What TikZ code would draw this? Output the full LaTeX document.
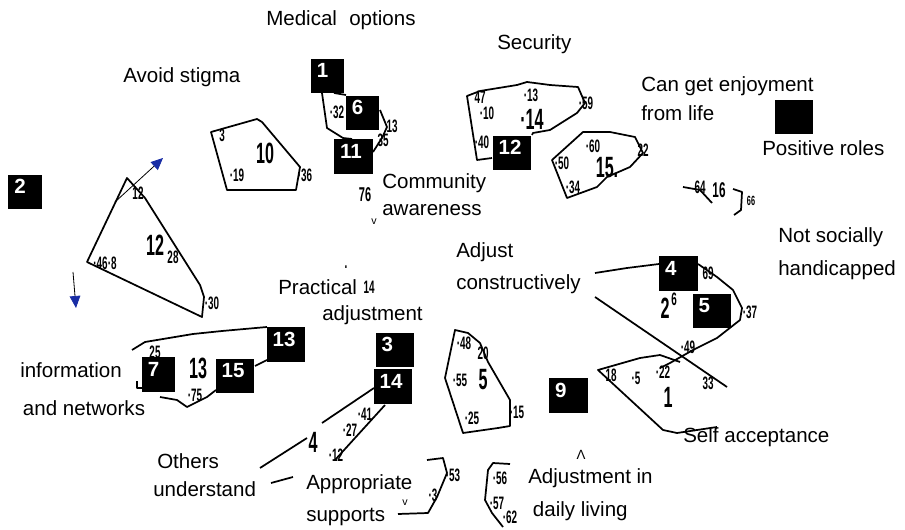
\documentclass[tikz,border=0pt]{standalone}
\usepackage{fontspec}
\setmainfont{Liberation Sans}
\newfontfamily\numfont[FakeStretch=0.55]{Liberation Sans}
\usetikzlibrary{arrows.meta}
\definecolor{arrowblue}{RGB}{25,45,165}

\begin{document}
\begin{tikzpicture}[x=0.75pt, y=-0.75pt,
  lbl/.style={anchor=west, inner sep=0pt, font=\fontsize{15.4}{18.5}\selectfont},
  blk/.style={fill=black, text=white, font=\bfseries\fontsize{15.4}{15.4}\selectfont,
    text width=20pt, align=left, inner xsep=4.5pt, inner ysep=3.5pt,
    text height=11pt, text depth=8pt},
  narrow/.style={text width=16pt},
  edge/.style={line width=1.3pt, line join=round},
  smallno/.style={inner sep=0pt, font=\numfont\bfseries\fontsize{13.5}{13.5}\selectfont},
  bigno/.style={inner sep=0pt, font=\numfont\bfseries\fontsize{22}{22}\selectfont},
  arr/.style={line width=0.6pt, -{Triangle[length=9pt, width=8pt, color=arrowblue]}}]

\useasboundingbox (0,0) rectangle (905,530);

% labels
\node[lbl] (lMed) at (266,20) {Medical\hspace{0.6em}options};
\node[lbl] (lSec) at (497,44) {Security};
\node[lbl] (lStig) at (123,77) {Avoid stigma};
\node[lbl, align=left] (lEnj) at (641,98.5) {Can get enjoyment\\[3.25pt]from life};
\node[lbl] (lPos) at (762,148) {Positive roles};
\node[lbl, align=left] (lCom) at (382,195) {Community\\[1.75pt]awareness};
\node[lbl, align=left] (lSoc) at (778,253.5) {Not socially\\[6.25pt]handicapped};
\node[lbl, align=left] (lCon) at (456,268) {Adjust\\[5.5pt]constructively};
\node[lbl] (lPra) at (278,287) {Practical};
\node[lbl] (lAdj) at (322,315) {adjustment};
\node[lbl, align=left] (lInf) at (20,389) {information\\[10pt]\hspace*{2pt}and networks};
\node[lbl, align=left] (lOth) at (153,475) {\hspace*{3pt}Others\\[2.5pt]understand};
\node[lbl, align=left] (lSup) at (306,500) {Appropriate\\[5.5pt]supports};
\node[lbl, align=left] (lDai) at (528,494.5) {Adjustment in\\[6.25pt]\hspace*{3.5pt}daily living};
\node[lbl] (lSel) at (683,437) {Self acceptance};

% black boxes
\node[blk, narrow] (b1) at (327.5,76) {1};
\node[blk, narrow] (b6) at (362.5,113) {6};
\node[blk] (b11) at (353.5,156.5) {11};
\node[blk] (b12) at (512,153) {12};
\node[blk, narrow] (b2) at (25,192) {2};
\node[blk] (b4) at (678.5,273.5) {4};
\node[blk] (b5) at (712,311) {5};
\node[blk] (b9) at (568.5,395.5) {9};
\node[blk] (b13) at (286,344.5) {13};
\node[blk, narrow] (b7) at (158.5,374.5) {7};
\node[blk] (b15) at (235,376) {15};
\node[blk] (b3) at (395,350) {3};
\node[blk] (b14) at (393,386.5) {14};
\node[blk] (bRoles) at (794,117) {};

% cluster 10
\draw[edge] (211,132) -- (257,119) -- (262,122) -- (300,167) -- (296,190) -- (227,190) -- cycle;
\node[bigno] (c10) at (265,153) {10};
\node[smallno] (c10a) at (237,175) {·19};
\node[smallno] (c10b) at (305,175) {·36};
\node[smallno] (c10c) at (222,135) {3};

% cluster 1-6-11
\draw[edge] (322,93) -- (327,128) -- (343,138) -- (352,139);
\draw[edge] (334,93) -- (346,95);
\draw[edge] (380,110) -- (387,127) -- (382,138) -- (373,152);
\node[smallno] (c11a) at (337,112) {·32};
\node[smallno] (c11b) at (392,126) {13};
\node[smallno] (c11c) at (383,140) {35};
\node[smallno, font=\numfont\bfseries\fontsize{15}{15}\selectfont] (c11d) at (365,195) {76};
\node[smallno, font=\fontsize{8}{8}\selectfont] (c11e) at (374,222) {v};

% cluster 14
\draw[edge] (492,158) -- (477,160) -- (467,96) -- (480,91) -- (517,85) -- (527,82)
  -- (550,85) -- (578,87) -- (585,103) -- (577,113) -- (550,130) -- (533,133) -- (532,135);
\node[smallno] (c14a) at (480,97) {47};
\node[smallno] (c14b) at (531,95) {·13};
\node[smallno] (c14c) at (586,103) {·59};
\node[smallno] (c14d) at (487,113) {·10};
\node[bigno] (c14) at (532,119) {·14};
\node[smallno] (c14e) at (482,142) {·40};

% cluster 15
\draw[edge] (552,160) -- (583,132) -- (610,132) -- (635,137) -- (643,153) -- (630,167)
  -- (607,177) -- (597,187) -- (567,198) -- cycle;
\node[smallno] (c15a) at (593,146) {·60};
\node[smallno] (c15b) at (643,150) {22};
\node[smallno] (c15c) at (562,163) {·50};
\node[bigno] (c15) at (607,168) {15.};
\node[smallno] (c15d) at (573,187) {·34};

% cluster 16
\draw[edge] (683,187) -- (700,190) -- (712,203);
\draw[edge] (733,189) -- (742,192) -- (741,210) -- (734,215);
\node[smallno] (c16a) at (700,187) {64};
\node[smallno, font=\numfont\bfseries\fontsize{16}{16}\selectfont] (c16) at (719,190) {16};
\node[smallno, font=\numfont\bfseries\fontsize{10}{10}\selectfont] (c16b) at (751,201) {66};

% cluster 2
\draw[edge] (595,273) -- (627,268) -- (659,264);
\draw[edge] (698,264) -- (717,277) -- (733,290) -- (742,308) -- (740,320) -- (717,338)
  -- (693,350) -- (670,363) -- (660,368);
\draw[edge] (595,297) -- (727,387);
\node[smallno] (c2a) at (708,273) {69};
\node[bigno] (c2) at (665,308) {2};
\node[smallno] (c2b) at (674,299) {6};
\node[smallno] (c2c) at (750,312) {·37};
\node[smallno] (c2d) at (688,347) {·49};

% cluster 1
\draw[edge] (717,427) -- (677,433) -- (663,430) -- (598,370) -- (640,358) -- (660,355) -- (680,362);
\node[smallno] (c1a) at (611,375) {18};
\node[smallno] (c1b) at (636,378) {·5};
\node[smallno] (c1c) at (663,372) {·22};
\node[smallno] (c1d) at (708,383) {33};
\node[bigno] (c1) at (668,397) {1};

% cluster 12
\draw[edge] (127,178) -- (87,262) -- (202,317) -- (204,297) -- (200,285) -- (145,198) -- cycle;
\coordinate (a1s) at (115,202);
\coordinate (a1e) at (163,158);
\coordinate (a2s) at (73,272);
\coordinate (a2e) at (76,308);
\draw[arr] (a1s) -- (a1e);
\draw[arr] (a2s) -- (a2e);
\node[smallno] (c12a) at (138,193) {12};
\node[bigno] (c12) at (155,245) {12};
\node[smallno] (c12b) at (173,257) {28};
\node[smallno] (c12c) at (105,263) {·46·8};
\node[smallno] (c12d) at (212,303) {·30};

% cluster 13
\draw[edge] (132,350) -- (145,342) -- (193,334) -- (222,331) -- (267,327);
\draw[edge] (267,360) -- (255,366);
\draw[edge] (216,390) -- (207,397) -- (187,407) -- (177,400) -- (160,397);
\draw[edge] (137,381) -- (137,388) -- (142,388);
\node[smallno] (c13a) at (155,352) {25};
\node[bigno] (c13) at (198,368) {13};
\node[smallno] (c13b) at (195,395) {·75};

% cluster 4
\draw[edge] (260,468) -- (307,438);
\draw[edge] (322,423) -- (374,388);
\draw[edge] (335,460) -- (385,405);
\draw[edge] (271,483) -- (293,477);
\node[bigno] (c4) at (313,442) {4};
\node[smallno] (c4a) at (350,430) {·27};
\node[smallno] (c4b) at (365,414) {·41};
\node[smallno] (c4c) at (336,455) {·12};

% cluster 3
\draw[edge] (427,460) -- (443,458) -- (447,473) -- (437,497) -- (428,513) -- (398,514);
\node[smallno] (c3a) at (453,475) {·53};
\node[smallno] (c3b) at (433,495) {·3};
\node[smallno, font=\fontsize{8}{8}\selectfont] (c3c) at (405,503) {v};

% cluster 5
\draw[edge] (455,330) -- (468,333) -- (480,343) -- (488,362) -- (510,400) -- (510,426)
  -- (498,428) -- (463,433) -- (445,378) -- cycle;
\node[smallno] (c5a) at (464,343) {·48};
\node[smallno] (c5b) at (483,353) {20};
\node[smallno] (c5c) at (460,380) {·55};
\node[bigno] (c5) at (483,380) {5};
\node[smallno] (c5d) at (472,418) {·25};
\node[smallno] (c5e) at (517,412) {·15};

% cluster 9
\draw[edge] (510,464) -- (493,463) -- (488,470) -- (485,500) -- (492,513) -- (503,527);
\node[smallno] (c9a) at (500,478) {·56};
\node[smallno] (c9b) at (497,503) {·57};
\node[smallno] (c9c) at (510,517) {·62};

% stray marks
\node[smallno] (m1) at (369,287) {14};
\node[smallno] (m2) at (346,267) {.};
\node[smallno, font=\fontsize{10}{10}\selectfont] (m3) at (581,455) {Λ};
\end{tikzpicture}
\end{document}
